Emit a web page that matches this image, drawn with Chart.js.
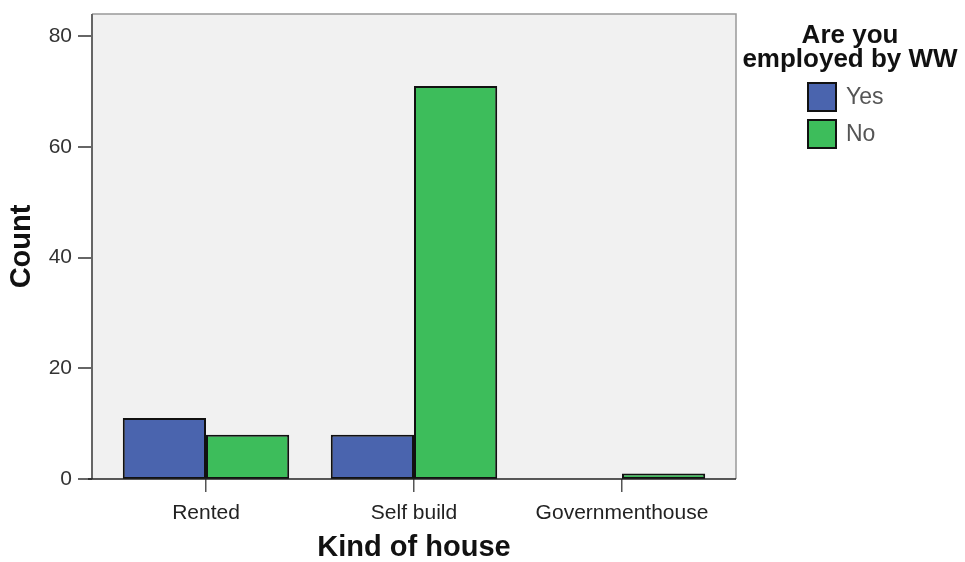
<!DOCTYPE html>
<html>
<head>
<meta charset="utf-8">
<script src="https://cdn.jsdelivr.net/npm/chart.js@4"></script>
<style>
  html, body { margin: 0; padding: 0; background: #fff; }
  #wrap { width: 965px; height: 562px; }
</style>
</head>
<body>
<div id="wrap"><canvas id="barChart"></canvas></div>
<script>
var categories = ['Rented', 'Self build', 'Governmenthouse'];
var yesCounts = [11, 8, 0];
var noCounts = [8, 71, 1];
var seriesNames = ['Yes', 'No'];
var legendTitle = ['Are you', 'employed by WW'];
var yTicks = [0, 20, 40, 60, 80];

var fontFamily = 'Arial, "Liberation Sans", sans-serif';
var framePad = 10; // plot frame sits a bit outside the category range

// grey plot area, light frame, and the axis lines with tick marks
var plotFrame = {
    id: 'plotFrame',
    beforeDraw: function(chart) {
        var a = chart.chartArea, ctx = chart.ctx;
        var left = a.left - framePad, right = a.right + framePad;
        ctx.save();
        ctx.fillStyle = '#f1f1f1';
        ctx.fillRect(left, a.top, right - left, a.bottom - a.top);
        ctx.strokeStyle = '#999';
        ctx.lineWidth = 1.5;
        ctx.beginPath();
        ctx.moveTo(left, a.top);
        ctx.lineTo(right, a.top);
        ctx.lineTo(right, a.bottom);
        ctx.stroke();
        ctx.restore();
    },
    afterDraw: function(chart) {
        var a = chart.chartArea, ctx = chart.ctx;
        var left = a.left - framePad, right = a.right + framePad;
        var yScale = chart.scales.y;
        ctx.save();
        ctx.strokeStyle = '#666';
        ctx.lineWidth = 2;
        ctx.beginPath();
        ctx.moveTo(left, a.top);
        ctx.lineTo(left, a.bottom);
        yTicks.forEach(function(v) {
            var py = Math.round(yScale.getPixelForValue(v));
            ctx.moveTo(left - 14, py);
            ctx.lineTo(left, py);
        });
        ctx.stroke();
        ctx.strokeStyle = '#222';
        ctx.lineWidth = 1.5;
        ctx.beginPath();
        ctx.moveTo(left - 4, a.bottom);
        ctx.lineTo(right, a.bottom);
        ctx.stroke();
        ctx.restore();
    }
};

// legend with a two line title, drawn by hand
var sideLegend = {
    id: 'sideLegend',
    afterDraw: function(chart) {
        var ctx = chart.ctx;
        var cx = 850;
        ctx.save();
        ctx.fillStyle = '#111';
        ctx.textAlign = 'center';
        ctx.textBaseline = 'alphabetic';
        ctx.font = 'bold 26px ' + fontFamily;
        legendTitle.forEach(function(line, i) {
            ctx.fillText(line, cx, 43 + i * 24);
        });
        ctx.textAlign = 'left';
        ctx.textBaseline = 'middle';
        ctx.font = '23px ' + fontFamily;
        chart.data.datasets.forEach(function(ds, i) {
            var y = 83 + i * 37;
            ctx.fillStyle = ds.backgroundColor;
            ctx.fillRect(808, y, 28, 28);
            ctx.strokeStyle = '#111';
            ctx.lineWidth = 2;
            ctx.strokeRect(808, y, 28, 28);
            ctx.fillStyle = '#555';
            ctx.fillText(ds.label, 846, y + 15);
        });
        ctx.restore();
    }
};

var data = {
    labels: categories,
    datasets: [{
        label: seriesNames[0],
        data: yesCounts,
        backgroundColor: '#4a64ae',
        borderColor: '#111',
        borderWidth: 2,
        borderSkipped: false
    }, {
        label: seriesNames[1],
        data: noCounts,
        backgroundColor: '#3dbd5b',
        borderColor: '#111',
        borderWidth: 2,
        borderSkipped: false
    }]
};

var config = {
    type: 'bar',
    data: data,
    options: {
        responsive: true,
        maintainAspectRatio: false,
        animation: false,
        datasets: {
            bar: { categoryPercentage: 0.8, barPercentage: 1.0 }
        },
        layout: { padding: { left: 0, top: 14, right: 239, bottom: 0 } },
        plugins: {
            legend: { display: false },
            tooltip: { enabled: false }
        },
        scales: {
            x: {
                grid: {
                    offset: false,
                    drawOnChartArea: false,
                    drawTicks: true,
                    tickLength: 13,
                    color: '#555',
                    lineWidth: 1.5
                },
                border: { display: false },
                ticks: {
                    color: '#222',
                    padding: 9,
                    font: { family: fontFamily, size: 21 }
                },
                title: {
                    display: true,
                    text: 'Kind of house',
                    color: '#111',
                    font: { family: fontFamily, size: 29, weight: 'bold', lineHeight: 1 },
                    padding: { top: 0, bottom: 0 }
                },
                afterFit: function(scale) { scale.height = 83; }
            },
            y: {
                min: 0,
                max: 84,
                grid: {
                    display: false,
                    drawTicks: false
                },
                border: { display: false },
                ticks: {
                    color: '#333',
                    padding: 30,
                    font: { family: fontFamily, size: 21 }
                },
                afterBuildTicks: function(scale) {
                    scale.ticks = yTicks.map(function(v) { return { value: v }; });
                },
                title: {
                    display: true,
                    text: 'Count',
                    color: '#111',
                    font: { family: fontFamily, size: 29, weight: 'bold', lineHeight: 1 },
                    padding: { top: 7, bottom: 0 }
                },
                afterFit: function(scale) {
                    scale.width = 92 + framePad;
                    scale.paddingTop = 0;
                    scale.paddingBottom = 0;
                }
            }
        }
    },
    plugins: [plotFrame, sideLegend]
};

var barChart = new Chart(
    document.getElementById('barChart'),
    config
);
</script>
</body>
</html>
